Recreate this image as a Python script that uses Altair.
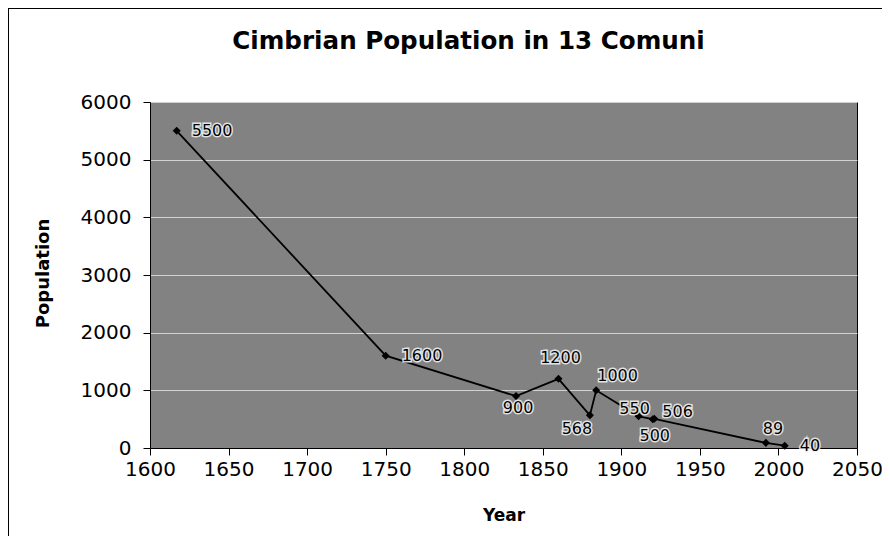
import altair as alt
import pandas as pd

# ---- data ----
years = [1617, 1750, 1833, 1860, 1880, 1884, 1911, 1920, 1921, 1992, 2004]
population = [5500, 1600, 900, 1200, 568, 1000, 550, 500, 506, 89, 40]

x_ticks = [1600, 1650, 1700, 1750, 1800, 1850, 1900, 1950, 2000, 2050]
y_ticks = [0, 1000, 2000, 3000, 4000, 5000, 6000]

# label placement (style only): dx, dy, align
label_dx = [15, 16, 2, 2, -13, 1, -4, 2, 8, 7, 15]
label_dy = [0, 0, 12, -21, 14, -14, -7, 17, -7, -14, 0]
label_align = ["left", "left", "center", "center", "center", "left",
               "center", "center", "left", "center", "left"]

df = pd.DataFrame({"year": years, "population": population,
                   "idx": list(range(len(years)))})

FONT = "DejaVu Sans"
W, H = 707, 346

x_enc = alt.X("year:Q",
              scale=alt.Scale(domain=[1600, 2050], nice=False, zero=False),
              axis=alt.Axis(values=x_ticks, format="d", title="Year",
                            grid=False, tickSize=7, tickColor="black",
                            domainColor="black", labelFont=FONT, labelFontSize=20,
                            labelColor="black", labelPadding=4,
                            labelFlush=False, labelOverlap=False,
                            titleFont=FONT, titleFontSize=17, titleFontWeight="bold",
                            titleColor="black", titleX=W / 2, titleY=67,
                            titleBaseline="middle"))
y_enc = alt.Y("population:Q",
              scale=alt.Scale(domain=[0, 6000], nice=False),
              axis=alt.Axis(values=y_ticks, format="d", title="Population",
                            grid=True, gridColor="#d2d2d2", gridWidth=1,
                            tickSize=7, tickColor="black", domainColor="black",
                            labelFont=FONT, labelFontSize=20, labelColor="black",
                            labelPadding=12, labelFlush=False, labelOverlap=False,
                            titleFont=FONT, titleFontSize=18, titleFontWeight="bold",
                            titleColor="black", titleX=-107, titleY=H / 2 - 2,
                            titleAngle=-90, titleAlign="center",
                            titleBaseline="middle"))

base = alt.Chart(df)

line = base.mark_line(color="black", strokeWidth=1.8).encode(x=x_enc, y=y_enc, order="idx:Q")
pts = base.mark_point(shape="diamond", filled=True, color="black", size=65, opacity=1).encode(
    x="year:Q", y="population:Q")

layers = [line, pts]
for i in range(len(years)):
    common = dict(dx=label_dx[i], dy=label_dy[i], align=label_align[i],
                  baseline="middle", font=FONT, fontSize=16)
    halo = base.transform_filter(alt.datum.idx == i).mark_text(
        stroke="#f4f4f4", strokeWidth=3, strokeOpacity=0.85, fill="#f4f4f4", **common
    ).encode(x="year:Q", y="population:Q", text="population:Q")
    txt = base.transform_filter(alt.datum.idx == i).mark_text(
        color="black", **common
    ).encode(x="year:Q", y="population:Q", text="population:Q")
    layers += [halo, txt]

# outer chart border (left and top edges visible in the reference)
border_left = alt.Chart(df).mark_rule(color="black", strokeWidth=1, clip=False).encode(
    x=alt.value(-141.5), y=alt.value(-93.5), y2=alt.value(H + 100))
border_top = alt.Chart(df).mark_rule(color="black", strokeWidth=1, clip=False).encode(
    x=alt.value(-141.5), x2=alt.value(W + 30), y=alt.value(-93.5))
layers += [border_left, border_top]

chart = alt.layer(*layers).properties(
    width=W, height=H,
    title=alt.TitleParams("Cimbrian Population in 13 Comuni", font=FONT, fontSize=24.6,
                          fontWeight="bold", color="black", anchor="middle",
                          baseline="alphabetic", dx=-35, offset=-66),
    autosize=alt.AutoSizeParams(type="none"),
    padding={"left": 142, "top": 94, "right": 25, "bottom": 88},
    background="white",
).configure_view(fill="#828282", stroke="black", strokeWidth=1)

chart.save("out.html", embed_options={"renderer": "svg", "actions": False})
